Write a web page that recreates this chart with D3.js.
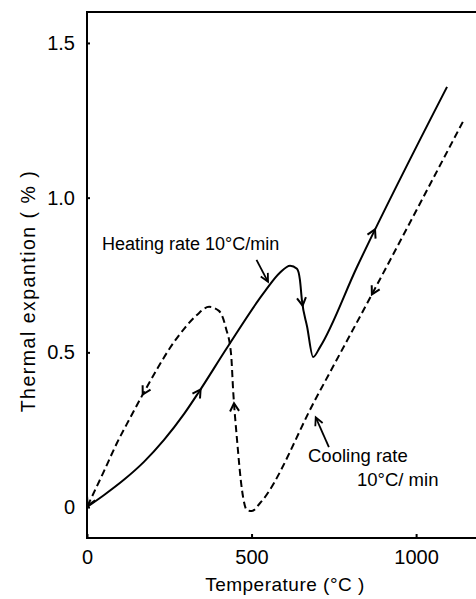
<html lang="en">
<head>
  <meta charset="UTF-8">
  <title>Thermal expantion</title>
  <script src="https://d3js.org/d3.v7.min.js"></script>
  <style>
    body { margin: 0; background: #fff; }
    text { font-family: "Liberation Sans", Arial, sans-serif; fill: #000; }
  </style>
</head>
<body>
  <div id="chart"></div>
  <script>
    // heating run (solid)
    let heatT = [0, 52, 112, 173, 234, 295, 340, 425, 541, 586, 617, 638, 647, 653, 669, 687, 708, 820, 1094];
    let heatV = [0, 0.039, 0.088, 0.146, 0.217, 0.301, 0.372, 0.514, 0.698, 0.757, 0.780, 0.770, 0.734, 0.669, 0.582, 0.485, 0.517, 0.775, 1.358];

    // cooling run (dashed), from high temperature down
    let coolT = [1142, 866, 693, 526, 501, 486, 471, 456, 444, 438, 422, 401, 371, 334, 295, 252, 213, 170, 131, 91, 52, 0];
    let coolV = [1.245, 0.688, 0.346, 0.013, -0.013, -0.01, 0.055, 0.216, 0.378, 0.492, 0.579, 0.634, 0.647, 0.621, 0.576, 0.514, 0.446, 0.365, 0.288, 0.207, 0.117, 0];

    // direction arrows sitting on each curve
    let heatArrows = [[336, 0.388], [661, 0.653], [876, 0.896]];
    let coolArrows = [[867, 0.685], [445, 0.336], [173, 0.36], [2, 0.005]];

    let xTicks = [0, 500, 1000];
    let yTicks = [0, 0.5, 1.0, 1.5];
    let yTickLabels = ["0", "0.5", "1.0", "1.5"];

    let width = 476, height = 599;

    let x = d3.scaleLinear().domain([0, 1182]).range([87, 476]);
    let y = d3.scaleLinear().domain([-0.1, 1.6]).range([538, 12]);

    let svg = d3.select("#chart")
      .append("svg")
      .attr("width", width)
      .attr("height", height);

    // frame: left axis, bottom axis and top line (no right side)
    svg.append("path")
      .attr("d", "M" + width + "," + y(1.6) + "H" + x(0) + "V" + y(-0.1) + "H" + width)
      .attr("fill", "none")
      .attr("stroke", "#000")
      .attr("stroke-width", 2);

    // ticks point inward
    let xAxis = svg.append("g")
      .attr("transform", "translate(0," + y(-0.1) + ")")
      .call(d3.axisBottom(x).tickValues(xTicks).tickSize(-4).tickPadding(12).tickFormat(d3.format("d")));
    xAxis.select(".domain").remove();
    xAxis.selectAll("line").attr("stroke-width", 2);
    xAxis.selectAll("text").attr("font-size", 20).attr("font-family", "Liberation Sans, Arial");

    let yAxis = svg.append("g")
      .attr("transform", "translate(" + x(0) + ",0)")
      .call(d3.axisLeft(y).tickValues(yTicks).tickSize(-3).tickPadding(12).tickFormat((d, i) => yTickLabels[i]));
    yAxis.select(".domain").remove();
    yAxis.selectAll("line").attr("stroke-width", 2);
    yAxis.selectAll("text").attr("font-size", 20).attr("font-family", "Liberation Sans, Arial");

    // axis titles
    svg.append("text")
      .attr("x", 285)
      .attr("y", 591)
      .attr("text-anchor", "middle")
      .attr("font-size", 19)
      .attr("letter-spacing", 0.5)
      .text("Temperature (°C )");

    svg.append("text")
      .attr("transform", "translate(35,291) rotate(-90)")
      .attr("text-anchor", "middle")
      .attr("font-size", 19.5)
      .attr("letter-spacing", 1.5)
      .text("Thermal  expantion ( % )");

    let line = d3.line()
      .x(d => x(d[0]))
      .y(d => y(d[1]))
      .curve(d3.curveMonotoneX);

    let heatPath = svg.append("path")
      .datum(heatT.map((t, i) => [t, heatV[i]]))
      .attr("d", line)
      .attr("fill", "none")
      .attr("stroke", "#000")
      .attr("stroke-width", 2);

    let coolPath = svg.append("path")
      .datum(coolT.map((t, i) => [t, coolV[i]]))
      .attr("d", line)
      .attr("fill", "none")
      .attr("stroke", "#000")
      .attr("stroke-width", 2)
      .attr("stroke-dasharray", "7,4");

    // put a chevron on the path at the point nearest to each given value
    function placeArrows(path, pts) {
      let node = path.node();
      let total = node.getTotalLength();
      pts.forEach(p => {
        let px = x(p[0]), py = y(p[1]);
        let best = 0, bd = Infinity;
        for (let l = 0; l <= total; l += 1) {
          let q = node.getPointAtLength(l);
          let d = (q.x - px) * (q.x - px) + (q.y - py) * (q.y - py);
          if (d < bd) { bd = d; best = l; }
        }
        let c = node.getPointAtLength(best);
        let a = node.getPointAtLength(Math.max(0, best - 4));
        let b = node.getPointAtLength(Math.min(total, best + 4));
        let ang = Math.atan2(b.y - a.y, b.x - a.x) * 180 / Math.PI;
        svg.append("path")
          .attr("d", "M-8,-4.5L0,0L-8,4.5")
          .attr("transform", "translate(" + c.x + "," + c.y + ") rotate(" + ang + ")")
          .attr("fill", "none")
          .attr("stroke", "#000")
          .attr("stroke-width", 2);
      });
    }
    placeArrows(heatPath, heatArrows);
    placeArrows(coolPath, coolArrows);

    // annotation labels with pointer arrows
    function pointer(from, to) {
      let x1 = x(from[0]), y1 = y(from[1]), x2 = x(to[0]), y2 = y(to[1]);
      let ang = Math.atan2(y2 - y1, x2 - x1) * 180 / Math.PI;
      svg.append("line")
        .attr("x1", x1).attr("y1", y1).attr("x2", x2).attr("y2", y2)
        .attr("stroke", "#000")
        .attr("stroke-width", 1.8);
      svg.append("path")
        .attr("d", "M-8,-4L0,0L-8,4")
        .attr("transform", "translate(" + x2 + "," + y2 + ") rotate(" + ang + ")")
        .attr("fill", "none")
        .attr("stroke", "#000")
        .attr("stroke-width", 1.8);
    }

    svg.append("text")
      .attr("x", 102)
      .attr("y", 250)
      .attr("font-size", 18)
      .text("Heating rate 10°C/min");
    pointer([515, 0.799], [550, 0.728]);

    svg.append("text")
      .attr("x", 308)
      .attr("y", 462)
      .attr("font-size", 18.5)
      .text("Cooling rate");
    svg.append("text")
      .attr("x", 357)
      .attr("y", 486)
      .attr("font-size", 18.5)
      .text("10°C/ min");
    pointer([735, 0.194], [695, 0.29]);
  </script>
</body>
</html>
